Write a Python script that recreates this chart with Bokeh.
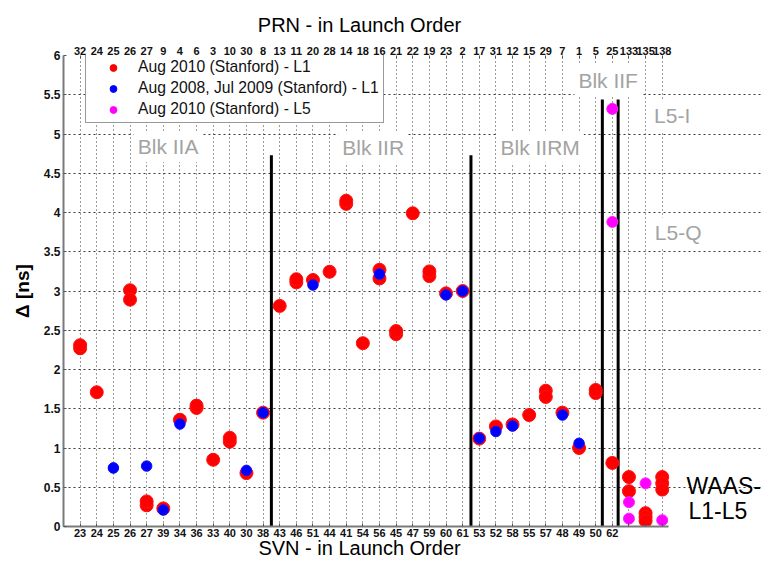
from bokeh.plotting import figure
from bokeh.models import (Range1d, FixedTicker, LinearAxis, Label, Legend,
                          LegendItem, ColumnDataSource)
from bokeh.embed import file_html
from bokeh.resources import INLINE

# ---------------- data ----------------
sats = ["SVN23", "SVN24", "SVN25", "SVN26", "SVN27", "SVN39", "SVN34", "SVN36",
        "SVN33", "SVN40", "SVN30", "SVN38", "SVN43", "SVN46", "SVN51", "SVN44",
        "SVN41", "SVN54", "SVN56", "SVN45", "SVN47", "SVN59", "SVN60", "SVN61",
        "SVN53", "SVN52", "SVN58", "SVN55", "SVN57", "SVN48", "SVN49", "SVN50",
        "SVN62", "PRN133", "PRN135", "PRN138"]
svn_labels = ["23", "24", "25", "26", "27", "39", "34", "36", "33", "40", "30", "38",
              "43", "46", "51", "44", "41", "54", "56", "45", "47", "59", "60", "61",
              "53", "52", "58", "55", "57", "48", "49", "50", "62", "", "", ""]
prn_labels = ["32", "24", "25", "26", "27", "9", "4", "6", "3", "10", "30", "8",
              "13", "11", "20", "28", "14", "18", "16", "21", "22", "19", "23", "2",
              "17", "31", "12", "15", "29", "7", "1", "5", "25", "133", "135", "138"]

# Aug 2010 (Stanford) - L1
red_sat = ["SVN23", "SVN23", "SVN24", "SVN26", "SVN26", "SVN27", "SVN27", "SVN39",
           "SVN34", "SVN36", "SVN36", "SVN33", "SVN40", "SVN40", "SVN30", "SVN38",
           "SVN43", "SVN46", "SVN46", "SVN51", "SVN44", "SVN41", "SVN41", "SVN54",
           "SVN56", "SVN56", "SVN45", "SVN45", "SVN47", "SVN59", "SVN59", "SVN60",
           "SVN61", "SVN53", "SVN52", "SVN58", "SVN55", "SVN57", "SVN57", "SVN48",
           "SVN49", "SVN50", "SVN50", "SVN62", "PRN133", "PRN133", "PRN135",
           "PRN135", "PRN135", "PRN138", "PRN138", "PRN138"]
red_delta = [2.27, 2.31, 1.71, 3.01, 2.89, 0.27, 0.32, 0.23,
             1.36, 1.51, 1.54, 0.85, 1.08, 1.13, 0.68, 1.45,
             2.81, 3.11, 3.15, 3.14, 3.245, 4.11, 4.15, 2.335,
             3.27, 3.16, 2.45, 2.49, 3.99, 3.19, 3.25, 2.97,
             3.00, 1.12, 1.275, 1.30, 1.42, 1.73, 1.65, 1.45,
             1.00, 1.70, 1.74, 0.81, 0.63, 0.45, 0.17,
             0.12, 0.07, 0.63, 0.55, 0.47]

# Aug 2008, Jul 2009 (Stanford) - L1
blue_sat = ["SVN25", "SVN27", "SVN39", "SVN34", "SVN30", "SVN38", "SVN51", "SVN56",
            "SVN60", "SVN61", "SVN53", "SVN52", "SVN58", "SVN48", "SVN49"]
blue_delta = [0.746, 0.77, 0.21, 1.305, 0.715, 1.45, 3.076, 3.216,
              2.95, 3.00, 1.125, 1.21, 1.28, 1.42, 1.06]

# Aug 2010 (Stanford) - L5
mag_sat = ["SVN62", "SVN62", "PRN133", "PRN133", "PRN135", "PRN138"]
mag_delta = [5.32, 3.88, 0.31, 0.10, 0.55, 0.08]

# block separators (between launch blocks)
sep_x = [12.5, 24.5, 32.4, 33.35]
sep_top = [4.73, 4.73, 5.44, 5.44]

legend_labels = ["Aug 2010 (Stanford) - L1",
                 "Aug 2008, Jul 2009 (Stanford) - L1",
                 "Aug 2010 (Stanford) - L5"]
top_title = "PRN - in Launch Order"
bottom_title = "SVN - in Launch Order"
y_title = "\u0394 [ns]"

# ---------------- figure ----------------
pos = {s: i + 1 for i, s in enumerate(sats)}
FONT = "Liberation Sans"
XMAX = 36.4
TITLE_X = 17.8

p = figure(width=763, height=561, x_range=Range1d(0, 42.09), y_range=Range1d(0, 6),
           output_backend="svg", toolbar_location=None,
           min_border_left=63, min_border_right=0, min_border_top=55,
           min_border_bottom=34, outline_line_color=None,
           background_fill_color="white", border_fill_color="white")

ticks = list(range(1, len(sats) + 1))
p.xaxis.ticker = FixedTicker(ticks=ticks)
p.xaxis.major_label_overrides = {t: svn_labels[t - 1] for t in ticks}
p.xaxis.bounds = (0, XMAX)
p.yaxis.ticker = FixedTicker(ticks=[i * 0.5 for i in range(13)])
p.yaxis.major_label_overrides = {i * 0.5: ("%g" % (i * 0.5)) for i in range(13)}

for ax in (p.xaxis[0], p.yaxis[0]):
    ax.axis_line_color = "#7a7a7a"
    ax.axis_line_width = 2
    ax.major_tick_in = 3
    ax.major_tick_out = 0
    ax.minor_tick_line_color = None
    ax.major_tick_line_color = "#555555"
    ax.major_label_text_font = FONT
    ax.major_label_text_font_style = "bold"
    ax.major_label_text_color = "#111111"

p.xaxis.major_label_text_font_size = "11px"
p.xaxis.major_label_standoff = 2

p.yaxis.major_label_text_font_size = "12px"
p.yaxis.major_label_standoff = 3
p.yaxis.axis_label = y_title
p.yaxis.axis_label_text_font = FONT
p.yaxis.axis_label_text_font_size = "19px"
p.yaxis.axis_label_text_font_style = "bold"
p.yaxis.axis_label_text_color = "black"
p.yaxis.axis_label_standoff = 8

top = LinearAxis(ticker=FixedTicker(ticks=ticks), bounds=(0, XMAX),
                 major_label_overrides={t: prn_labels[t - 1] for t in ticks},
                 axis_line_color=None, major_tick_in=3, major_tick_out=0,
                 major_tick_line_color="#555555", minor_tick_line_color=None,
                 major_label_text_font=FONT, major_label_text_font_style="bold",
                 major_label_text_font_size="11px", major_label_text_color="#111111",
                 major_label_standoff=1)
p.add_layout(top, "above")


def title_axis(text, standoff):
    return LinearAxis(ticker=FixedTicker(ticks=[TITLE_X]),
                      major_label_overrides={TITLE_X: text},
                      axis_line_color=None, major_tick_line_color=None,
                      minor_tick_line_color=None, major_tick_in=0, major_tick_out=0,
                      major_label_text_font=FONT, major_label_text_font_size="20px",
                      major_label_text_color="black", major_label_standoff=standoff)


p.add_layout(title_axis(top_title, 8), "above")
p.add_layout(title_axis(bottom_title, -3), "below")

p.xgrid.grid_line_color = "#3a3a3a"
p.xgrid.grid_line_dash = "1 3"
p.xgrid.grid_line_width = 1
p.ygrid.grid_line_color = "#3a3a3a"
p.ygrid.grid_line_dash = "2 3"
p.ygrid.grid_line_width = 1
p.ygrid.bounds = (0, XMAX)

# block separator lines
p.segment(x0=sep_x, y0=[0] * len(sep_x), x1=sep_x, y1=sep_top,
          line_color="black", line_width=3)

# text labels (blocks)
txt_kw = dict(text_font=FONT, text_color="#a3a3a3", text_font_size="21px",
              text_align="center", text_baseline="middle",
              background_fill_color="white", background_fill_alpha=1.0)
for t, x, y in [("Blk IIA", 6.29, 4.84), ("Blk IIR", 18.62, 4.83),
                ("Blk IIRM", 28.66, 4.83), ("Blk IIF", 32.75, 5.68),
                ("L5-I", 36.6, 5.24), ("L5-Q", 36.96, 3.74)]:
    p.add_layout(Label(x=x, y=y, text=t, padding=4, **txt_kw))

# legend glyph renderers (hidden under the first point of each series)
lr = p.scatter([pos[red_sat[0]]], [red_delta[0]], size=10, color="#ff0000")
lb = p.scatter([pos[blue_sat[0]]], [blue_delta[0]], size=10, color="#0000ff")
lm = p.scatter([pos[mag_sat[0]]], [mag_delta[0]], size=10, color="#ff00ff")

# data
src_r = ColumnDataSource(dict(x=[pos[s] for s in red_sat], y=red_delta))
src_b = ColumnDataSource(dict(x=[pos[s] for s in blue_sat], y=blue_delta))
src_m = ColumnDataSource(dict(x=[pos[s] for s in mag_sat], y=mag_delta))
p.scatter("x", "y", source=src_r, size=13, fill_color="#ff0000", line_color="#ff1010",
          line_width=1)
p.scatter("x", "y", source=src_b, size=10.5, fill_color="#0000ff", line_color="#1010ff",
          line_width=1)
p.scatter("x", "y", source=src_m, size=11, fill_color="#ff00ff", line_color="#ff20ff",
          line_width=1)

legend = Legend(items=[LegendItem(label=legend_labels[0], renderers=[lr]),
                       LegendItem(label=legend_labels[1], renderers=[lb]),
                       LegendItem(label=legend_labels[2], renderers=[lm])],
                location=(22, 403), padding=4, spacing=3, label_height=17,
                glyph_height=17, glyph_width=46, label_standoff=2, margin=0,
                label_text_font=FONT, label_text_font_size="15.7px",
                label_text_color="#111111",
                border_line_color="#333333", border_line_width=1.5,
                background_fill_color="white", background_fill_alpha=1.0)
p.add_layout(legend, "center")

# WAAS annotation
for t, x, y in [("WAAS-", 37.46, 0.52), ("L1-L5", 37.58, 0.20)]:
    p.add_layout(Label(x=x, y=y, text=t, text_font=FONT, text_font_size="23px",
                       text_color="black", text_align="left", text_baseline="middle"))

open("out.html", "w").write(file_html(p, INLINE))
